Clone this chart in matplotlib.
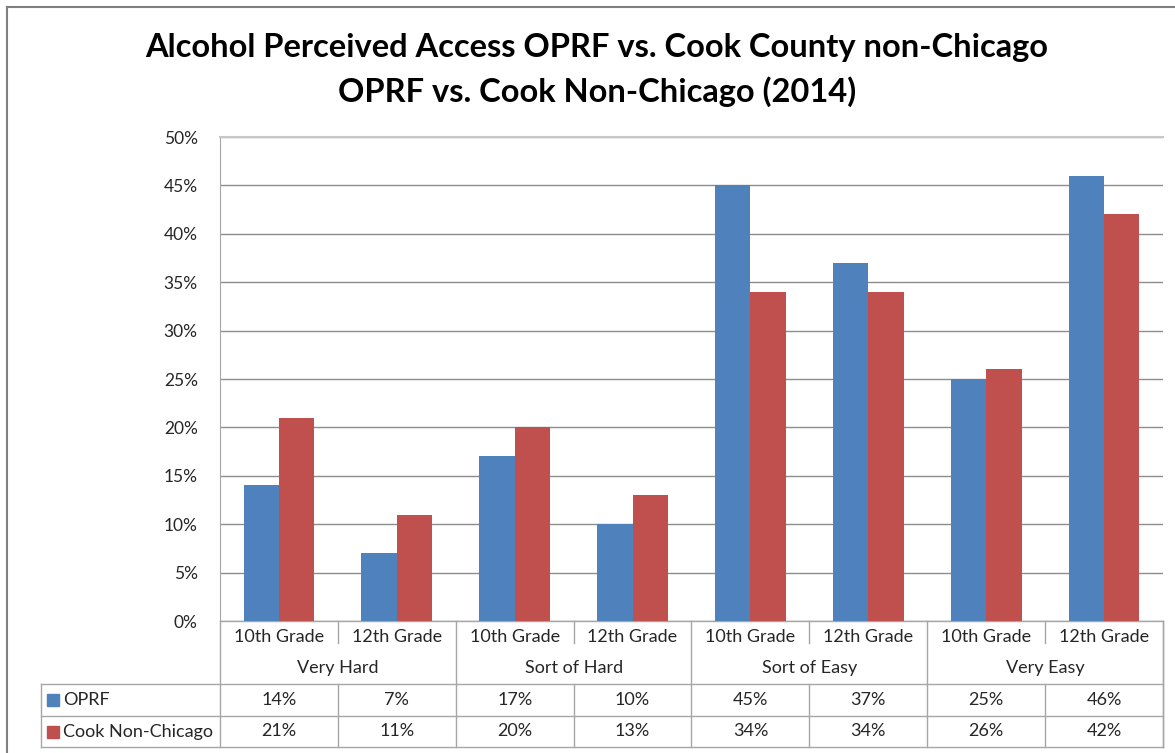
import matplotlib.pyplot as plt
import matplotlib.transforms as mtransforms
from matplotlib.lines import Line2D

# ---- data ----
groups = ["Very Hard", "Sort of Hard", "Sort of Easy", "Very Easy"]
grades = ["10th Grade", "12th Grade"]
series = ["OPRF", "Cook Non-Chicago"]
oprf = [14, 7, 17, 10, 45, 37, 25, 46]
cook = [21, 11, 20, 13, 34, 34, 26, 42]
yticks = [0, 5, 10, 15, 20, 25, 30, 35, 40, 45, 50]

BLUE = "#4F81BD"
RED = "#C0504D"
GRID = "#8C8C8C"
LINE = "#A6A6A6"
TXT = "#262626"
FONT = "Lato"

plt.rcParams["font.family"] = [FONT, "DejaVu Sans"]

W, H = 1175, 753
fig = plt.figure(figsize=(W / 100, H / 100), dpi=100)

L, R, T, B = 220, 1163, 137, 621
ax = fig.add_axes([L / W, 1 - B / H, (R - L) / W, (B - T) / H])

n = len(oprf)
xs = [i + 0.5 for i in range(n)]
bw = 0.3
ax.bar([x - bw / 2 for x in xs], oprf, bw, color=BLUE, zorder=3)
ax.bar([x + bw / 2 for x in xs], cook, bw, color=RED, zorder=3)

ax.set_xlim(0, n)
ax.set_ylim(0, 50)
ax.set_yticks(yticks)
ax.set_yticklabels([f"{v}%" for v in yticks], fontsize=12.5, color=TXT)
ax.tick_params(axis="y", length=0, pad=16)
ax.set_xticks([])
ax.grid(axis="y", color=GRID, lw=1, zorder=0)
for s in ["right", "bottom"]:
    ax.spines[s].set_visible(False)
ax.spines["left"].set_color(LINE)
ax.spines["top"].set_color("#C8C8C8")
ax.spines["top"].set_linewidth(1.5)

# ---- data table below the plot ----
ph = B - T
def yf(px):
    # pixels below axes bottom -> axes fraction
    return -px / ph

blend = mtransforms.blended_transform_factory(ax.transData, ax.transAxes)
rows = [0, 31, 63, 95, 126]
xl = -(L - 41) * n / (R - L)

def hline(x0, x1, y):
    ax.add_line(Line2D([x0, x1], [yf(y), yf(y)], transform=blend, color=LINE,
                       lw=1, clip_on=False))

def vline(x, y0, y1):
    ax.add_line(Line2D([x, x], [yf(y0), yf(y1)], transform=blend, color=LINE,
                       lw=1, clip_on=False))

hline(0, n, rows[0])
hline(xl, n, rows[2])
hline(xl, n, rows[3])
hline(xl, n, rows[4])
vline(xl, rows[2], rows[4])
vline(n, rows[0], rows[4])
for i in range(n + 1):
    if i % 2 == 0:
        vline(i, rows[0], rows[4])
    else:
        vline(i, rows[0], rows[0] + 22)
        vline(i, rows[2], rows[4])

fs = 13
for i in range(n):
    ax.text(xs[i], yf((rows[0] + rows[1]) / 2), grades[i % 2], transform=blend,
            ha="center", va="center", fontsize=fs, color=TXT)
    ax.text(xs[i], yf((rows[2] + rows[3]) / 2), f"{oprf[i]}%", transform=blend,
            ha="center", va="center", fontsize=fs, color=TXT)
    ax.text(xs[i], yf((rows[3] + rows[4]) / 2), f"{cook[i]}%", transform=blend,
            ha="center", va="center", fontsize=fs, color=TXT)
for g, name in enumerate(groups):
    ax.text(2 * g + 1, yf((rows[1] + rows[2]) / 2), name, transform=blend,
            ha="center", va="center", fontsize=fs, color=TXT)

unit = n / (R - L)
for k, (name, col) in enumerate(zip(series, [BLUE, RED])):
    yc = yf((rows[2 + k] + rows[3 + k]) / 2)
    ax.plot([xl + 12 * unit], [yc], marker="s", ms=8, color=col,
            transform=blend, clip_on=False, lw=0)
    ax.text(xl + 22 * unit, yc, name, transform=blend, ha="left",
            va="center", fontsize=fs, color=TXT)

# ---- title ----
fig.text(597 / W, 1 - 48 / H, "Alcohol Perceived Access OPRF vs. Cook County non-Chicago",
         ha="center", va="center", fontsize=23.5, fontweight="bold", color="black")
fig.text(597 / W, 1 - 92 / H, "OPRF vs. Cook Non-Chicago (2014)",
         ha="center", va="center", fontsize=23.5, fontweight="bold", color="black")

# chart frame
fig.add_artist(Line2D([7 / W, 7 / W], [0, 1 - 7 / H], transform=fig.transFigure,
                      color="#808080", lw=1.5))
fig.add_artist(Line2D([7 / W, 1], [1 - 7 / H, 1 - 7 / H], transform=fig.transFigure,
                      color="#808080", lw=1.5))

fig.savefig("out.png", dpi=100)
